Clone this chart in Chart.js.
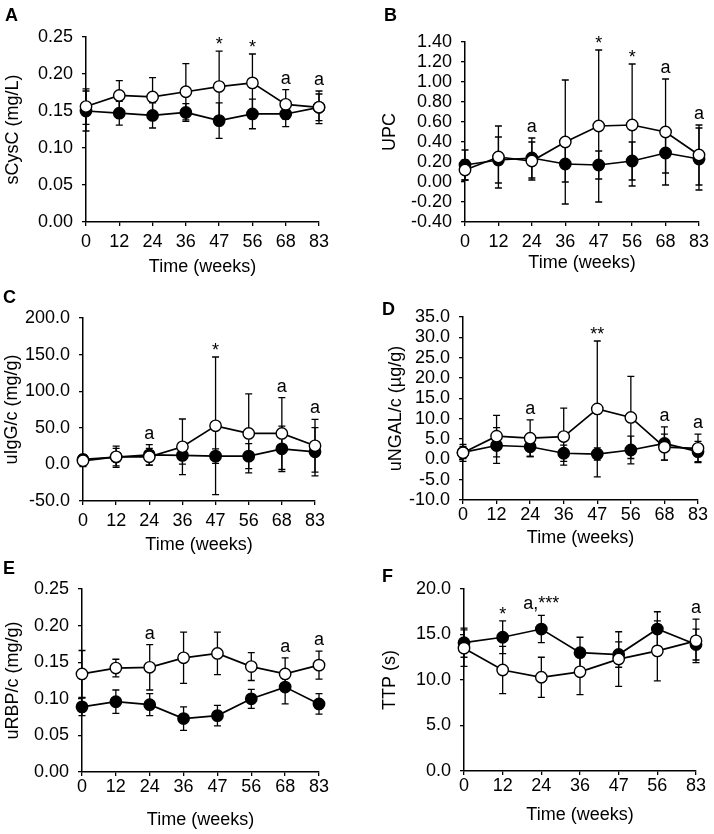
<!DOCTYPE html>
<html>
<head>
<meta charset="utf-8">
<script src="https://cdn.jsdelivr.net/npm/chart.js@4/dist/chart.umd.min.js"></script>
<style>
  body { margin: 0; background: #fff; }
  #page { position: relative; width: 714px; height: 834px; }
  canvas { position: absolute; }
  .tag { position: absolute; font: bold 18px "Liberation Sans", Arial, sans-serif; line-height: 18px; color: #000; }
</style>
</head>
<body>
<div id="page">
  <canvas id="cA"></canvas><canvas id="cB"></canvas><canvas id="cC"></canvas>
  <canvas id="cD"></canvas><canvas id="cE"></canvas><canvas id="cF"></canvas>
  <div class="tag" style="left:5px;top:6px">A</div>
  <div class="tag" style="left:384px;top:6px">B</div>
  <div class="tag" style="left:3px;top:288px">C</div>
  <div class="tag" style="left:382px;top:300px">D</div>
  <div class="tag" style="left:3px;top:559px">E</div>
  <div class="tag" style="left:382px;top:567px">F</div>
</div>
<script>
// weeks on the x axis (panel F has no week 68)
const weeks = ['0', '12', '24', '36', '47', '56', '68', '83'];
const weeksF = ['0', '12', '24', '36', '47', '56', '83'];

// A: sCysC (mg/L)
const openA = [0.156, 0.171, 0.169, 0.176, 0.183, 0.188, 0.159, 0.155];
const openSdA = [0.024, 0.020, 0.026, 0.038, 0.048, 0.039, 0.020, 0.022];
const fillA = [0.150, 0.147, 0.144, 0.148, 0.137, 0.146, 0.146, 0.155];
const fillSdA = [0.027, 0.016, 0.017, 0.012, 0.024, 0.020, 0.017, 0.018];
const ticksA = [0, 0.05, 0.10, 0.15, 0.20, 0.25];
const notesA = ['', '', '', '', '*', '*', 'a', 'a'];

// B: UPC
const openB = [0.12, 0.25, 0.21, 0.40, 0.56, 0.57, 0.50, 0.27];
const openSdB = [0.10, 0.31, 0.19, 0.62, 0.76, 0.61, 0.53, 0.30];
const fillB = [0.17, 0.22, 0.24, 0.18, 0.17, 0.21, 0.29, 0.23];
const fillSdB = [0.15, 0.23, 0.20, 0.18, 0.14, 0.19, 0.20, 0.31];
const ticksB = [-0.4, -0.2, 0, 0.2, 0.4, 0.6, 0.8, 1.0, 1.2, 1.4];
const notesB = ['', '', 'a', '', '*', '*', 'a', 'a'];

// C: uIgG/c (mg/g)
const openC = [4.9, 10.4, 10.4, 24.0, 52.7, 42.3, 42.3, 25.4];
const openSdC = [8, 14.5, 11.5, 38, 94, 54, 49, 36];
const fillC = [6.8, 10.0, 13.0, 12.3, 11.3, 11.3, 21.3, 17.2];
const fillSdC = [6, 12, 14, 12, 10, 17, 31, 33];
const ticksC = [-50, 0, 50, 100, 150, 200];
const notesC = ['', '', 'a', '', '*', '', 'a', 'a'];

// D: uNGAL/c (µg/g)
const openD = [1.6, 5.7, 5.2, 5.6, 12.4, 10.3, 3.0, 2.7];
const openSdD = [2.1, 5.1, 4.5, 7.0, 16.7, 10.1, 3.2, 3.5];
const fillD = [1.7, 3.4, 3.1, 1.5, 1.3, 2.3, 3.9, 1.9];
const fillSdD = [1.5, 4.4, 2.4, 2.0, 1.5, 3.4, 4.1, 2.5];
const ticksD = [-10, -5, 0, 5, 10, 15, 20, 25, 30, 35];
const notesD = ['', '', 'a', '', '**', '', 'a', 'a'];

// E: uRBP/c (mg/g)
const openE = [0.134, 0.142, 0.143, 0.156, 0.162, 0.144, 0.134, 0.146];
const openSdE = [0.032, 0.012, 0.031, 0.035, 0.029, 0.019, 0.022, 0.019];
const fillE = [0.089, 0.096, 0.092, 0.073, 0.077, 0.100, 0.116, 0.093];
const fillSdE = [0.012, 0.016, 0.015, 0.016, 0.014, 0.013, 0.023, 0.014];
const ticksE = [0, 0.05, 0.10, 0.15, 0.20, 0.25];
const notesE = ['', '', 'a', '', '', '', 'a', 'a'];

// F: TTP (s)
const openF = [13.5, 11.1, 10.3, 10.9, 12.3, 13.2, 14.3];
const openSdF = [2.0, 2.6, 2.2, 2.5, 3.0, 3.3, 2.4];
const fillF = [14.1, 14.7, 15.6, 13.0, 12.8, 15.6, 13.9];
const fillSdF = [1.6, 1.8, 1.5, 1.7, 1.4, 1.9, 1.7];
const ticksF = [0, 5, 10, 15, 20];
const notesF = ['', '*', 'a,***', '', '', '', 'a'];

const FONT = '"Liberation Sans", Arial, sans-serif';
const SIZE = 18;

// vertical mean ± SD bars, drawn under the markers
const errorBars = {
  id: 'errorBars',
  beforeDatasetsDraw(chart) {
    const { ctx, scales: { x, y } } = chart;
    ctx.save();
    ctx.strokeStyle = '#000';
    ctx.lineWidth = 1.3;
    chart.data.datasets.forEach((ds) => {
      ds.errors.forEach((sd, j) => {
        const px = x.getPixelForValue(j);
        const hi = y.getPixelForValue(ds.data[j] + sd);
        const lo = y.getPixelForValue(ds.data[j] - sd);
        ctx.beginPath();
        ctx.moveTo(px, hi); ctx.lineTo(px, lo);
        ctx.moveTo(px - 3.5, hi); ctx.lineTo(px + 3.5, hi);
        ctx.moveTo(px - 3.5, lo); ctx.lineTo(px + 3.5, lo);
        ctx.stroke();
      });
    });
    ctx.restore();
  }
};

// significance marks above the highest error bar
const notes = {
  id: 'notes',
  afterDatasetsDraw(chart, args, opts) {
    const { ctx, scales: { x, y } } = chart;
    ctx.save();
    ctx.fillStyle = '#000';
    ctx.font = SIZE + 'px ' + FONT;
    ctx.textAlign = 'center';
    ctx.textBaseline = 'alphabetic';
    opts.marks.forEach((m, j) => {
      if (!m) return;
      let top = Infinity;
      chart.data.datasets.forEach((ds) => {
        top = Math.min(top, y.getPixelForValue(ds.data[j] + ds.errors[j]));
      });
      const gap = m[0] === '*' ? 1 : 6;
      ctx.fillText(m, x.getPixelForValue(j), top - gap);
    });
    ctx.restore();
  }
};

function panel(id, box, labels, open, openSd, fill, fillSd, ticks, digits, yTitle, marks) {
  const cv = document.getElementById(id);
  cv.width = box.w; cv.height = box.h;
  cv.style.left = box.x + 'px'; cv.style.top = box.y + 'px';
  const axisLine = { color: '#000', width: 1.5 };
  const tickGrid = { drawOnChartArea: false, drawTicks: true, tickLength: 4, color: '#000', lineWidth: 1.3 };
  const font = { family: FONT, size: SIZE, lineHeight: 1.2 };
  const half = SIZE * 0.6;
  new Chart(cv, {
    type: 'line',
    data: {
      labels,
      datasets: [
        // open circles first so Chart.js paints them on top
        { data: open, errors: openSd, borderColor: '#000', backgroundColor: '#fff', borderWidth: 1.7,
          pointRadius: 5.7, pointBorderWidth: 1.4, pointBorderColor: '#000', pointBackgroundColor: '#fff', clip: false },
        { data: fill, errors: fillSd, borderColor: '#000', backgroundColor: '#000', borderWidth: 1.7,
          pointRadius: 5.7, pointBorderWidth: 1.4, pointBorderColor: '#000', pointBackgroundColor: '#000', clip: false }
      ]
    },
    options: {
      responsive: false,
      animation: false,
      devicePixelRatio: 1,
      layout: { padding: { top: box.top, right: box.right, left: 0, bottom: 0 } },
      plugins: { legend: { display: false }, tooltip: { enabled: false }, notes: { marks } },
      scales: {
        x: {
          type: 'category', offset: false,
          grid: tickGrid, border: axisLine,
          ticks: { color: '#000', font, padding: box.tickPad, maxRotation: 0, autoSkip: false },
          title: { display: true, text: 'Time (weeks)', color: '#000', font,
                   padding: { top: 0, bottom: box.xOff - half } },
          afterFit: (s) => { s.height = box.xh; }
        },
        y: {
          min: ticks[0], max: ticks[ticks.length - 1],
          grid: tickGrid, border: axisLine,
          afterBuildTicks: (s) => { s.ticks = ticks.map((v) => ({ value: v })); },
          ticks: { color: '#000', font, padding: 9, autoSkip: false,
                   callback: (v) => Number(v).toFixed(digits) },
          title: { display: true, text: yTitle, color: '#000', font,
                   padding: { top: box.yOff - half, bottom: 0 } },
          afterFit: (s) => { s.width = box.yw; }
        }
      }
    },
    plugins: [errorBars, notes]
  });
}

panel('cA', { x: 0, y: 0, w: 357, h: 280, top: 37, right: 38, yw: 86, xh: 58, yOff: 13, xOff: 13, tickPad: 5 },
  weeks, openA, openSdA, fillA, fillSdA, ticksA, 2, 'sCysC (mg/L)', notesA);
panel('cB', { x: 357, y: 0, w: 357, h: 280, top: 42, right: 12, yw: 108, xh: 58, yOff: 33, xOff: 17, tickPad: 5 },
  weeks, openB, openSdB, fillB, fillSdB, ticksB, 2, 'UPC', notesB);
panel('cC', { x: 0, y: 280, w: 357, h: 278, top: 38, right: 42, yw: 83, xh: 57, yOff: 12, xOff: 13, tickPad: 5 },
  weeks, openC, openSdC, fillC, fillSdC, ticksC, 1, 'uIgG/c (mg/g)', notesC);
panel('cD', { x: 357, y: 280, w: 357, h: 278, top: 37, right: 16, yw: 106, xh: 58, yOff: 39, xOff: 20, tickPad: 0 },
  weeks, openD, openSdD, fillD, fillSdD, ticksD, 1, 'uNGAL/c (µg/g)', notesD);
panel('cE', { x: 0, y: 558, w: 357, h: 276, top: 31, right: 38, yw: 82, xh: 62, yOff: 13, xOff: 14, tickPad: 0 },
  weeks, openE, openSdE, fillE, fillSdE, ticksE, 2, 'uRBP/c (mg/g)', notesE);
panel('cF', { x: 357, y: 558, w: 357, h: 276, top: 31, right: 18, yw: 107, xh: 63, yOff: 33, xOff: 19, tickPad: 0 },
  weeksF, openF, openSdF, fillF, fillSdF, ticksF, 1, 'TTP (s)', notesF);
</script>
</body>
</html>
